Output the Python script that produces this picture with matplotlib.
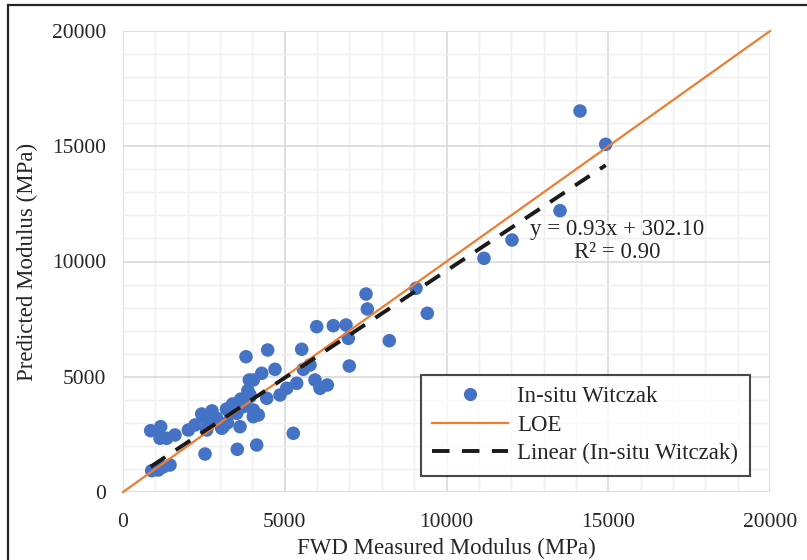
import matplotlib
matplotlib.use("Agg")
import matplotlib.pyplot as plt
from matplotlib.lines import Line2D
from matplotlib.patches import Rectangle
import numpy as np

# FWD measured modulus (MPa) vs. in-situ Witczak predicted modulus (MPa)
fwd_measured = [
    887, 1091, 1236, 1453, 856, 1165, 1144, 1351, 1607, 2019,
    2226, 2433, 2637, 2896, 3051, 3308, 3515, 3771, 3926, 4028,
    4028, 2535, 3533, 4133, 3802, 4473, 5524, 3904, 4287, 4699,
    5780, 5935, 5369, 5060, 4853, 4442, 4182, 3926, 3719, 3515,
    3100, 2896, 2482, 2587, 3617, 4028, 5264, 7512, 7552, 5988,
    6501, 6893, 6964, 8232, 5573, 6995, 6090, 6315, 13509, 12025,
    11159, 9057, 9407, 14127, 14921, 3200, 3390, 3640, 3860, 2750,
    3230,
]
witczak_predicted = [
    924, 954, 1085, 1171, 2659, 2833, 2330, 2330, 2473, 2690,
    2907, 3384, 2980, 3124, 2764, 3414, 3701, 3918, 4208, 4859,
    3267, 1649, 1852, 2039, 5870, 6161, 6191, 4859, 5150, 5323,
    5510, 4859, 4716, 4499, 4208, 4065, 3341, 4134, 3701, 3414,
    2833, 3197, 3267, 2690, 2833, 3557, 2547, 8590, 7939, 7172,
    7215, 7245, 6668, 6564, 5323, 5466, 4499, 4642, 12204, 10933,
    10139, 8837, 7753, 16529, 15085, 3600, 3820, 4030, 4400, 3520,
    3000,
]

# Linear trendline as reported on the chart
trend_slope = 0.93
trend_intercept = 302.10
trend_r2 = 0.90

axis_max = 20000
major_ticks = [0, 5000, 10000, 15000, 20000]

plt.rcParams["font.family"] = ["Liberation Serif", "DejaVu Serif"]
FS = 16.5
TICK_FS = 15.5

fig = plt.figure(figsize=(8.07, 5.60), dpi=100)
W, H = 807, 560
ax = fig.add_axes([123 / W, 1 - 492 / H, 647 / W, 461 / H])

# outer frame of the figure
fig.patches.append(Rectangle((8 / W, -0.1), 1.2, 0.1 + 1 - 5 / H,
                             transform=fig.transFigure, fill=False,
                             edgecolor="#262626", linewidth=1.6, zorder=0))

ax.set_xlim(0, axis_max)
ax.set_ylim(0, axis_max)
ax.set_xticks(major_ticks)
ax.set_yticks(major_ticks)
ax.set_xticks(np.arange(0, axis_max + 1, 1000), minor=True)
ax.set_yticks(np.arange(0, axis_max + 1, 1000), minor=True)
ax.grid(which="major", color="#d9d9d9", linewidth=1.2, zorder=0)
ax.grid(which="minor", color="#efefef", linewidth=1.0, zorder=0)
ax.tick_params(which="both", length=0)
ax.tick_params(axis="x", labelsize=TICK_FS, pad=15, colors="#262626")
ax.tick_params(axis="y", labelsize=TICK_FS, pad=12, colors="#262626")
for s in ax.spines.values():
    s.set_visible(False)
ax.set_axisbelow(True)

ax.scatter(fwd_measured, witczak_predicted, s=95, color="#4472C4",
           edgecolors="none", zorder=3, clip_on=False)

# line of equality
ax.plot([0, axis_max], [0, axis_max], color="#ED7D31", linewidth=1.6,
        zorder=4, clip_on=False)

# trendline over the data range
xr = np.array([min(fwd_measured), max(fwd_measured)])
ax.plot(xr, trend_slope * xr + trend_intercept, color="#1a1a1a",
        linewidth=2.8, linestyle=(0, (4.5, 3.2)), zorder=5)

ax.text(15270, 10900, f"y = {trend_slope:.2f}x + {trend_intercept:.2f}\nR² = {trend_r2:.2f}",
        ha="center", va="center", multialignment="center", fontsize=FS,
        color="#262626", linespacing=1.1, zorder=6)

ax.set_xlabel("FWD Measured Modulus (MPa)", fontsize=FS, color="#262626")
ax.set_ylabel("Predicted Modulus (MPa)", fontsize=FS, color="#262626")
ax.xaxis.set_label_coords(0.5, (492 - 538) / 461)
ax.yaxis.set_label_coords((38 - 123) / 647, 0.5)

handles = [
    Line2D([], [], marker="o", linestyle="none", markersize=9.5,
           markerfacecolor="#4472C4", markeredgecolor="none"),
    Line2D([], [], color="#ED7D31", linewidth=1.6),
    Line2D([], [], color="#1a1a1a", linewidth=2.8, linestyle=(0, (4.5, 3.2))),
]
leg = ax.legend(handles, ["In-situ Witczak", "LOE", "Linear (In-situ Witczak)"],
                loc="upper left", bbox_to_anchor=((421 - 123) / 647, (492 - 375) / 461),
                fontsize=FS, frameon=True, fancybox=False, handlelength=3.3,
                handletextpad=0.4, borderpad=0.5, labelspacing=0.32,
                borderaxespad=0)
leg.get_frame().set_edgecolor("#1a1a1a")
leg.get_frame().set_linewidth(1.5)
leg.set_zorder(10)
for t in leg.get_texts():
    t.set_color("#262626")

fig.savefig("out.png", dpi=100)
